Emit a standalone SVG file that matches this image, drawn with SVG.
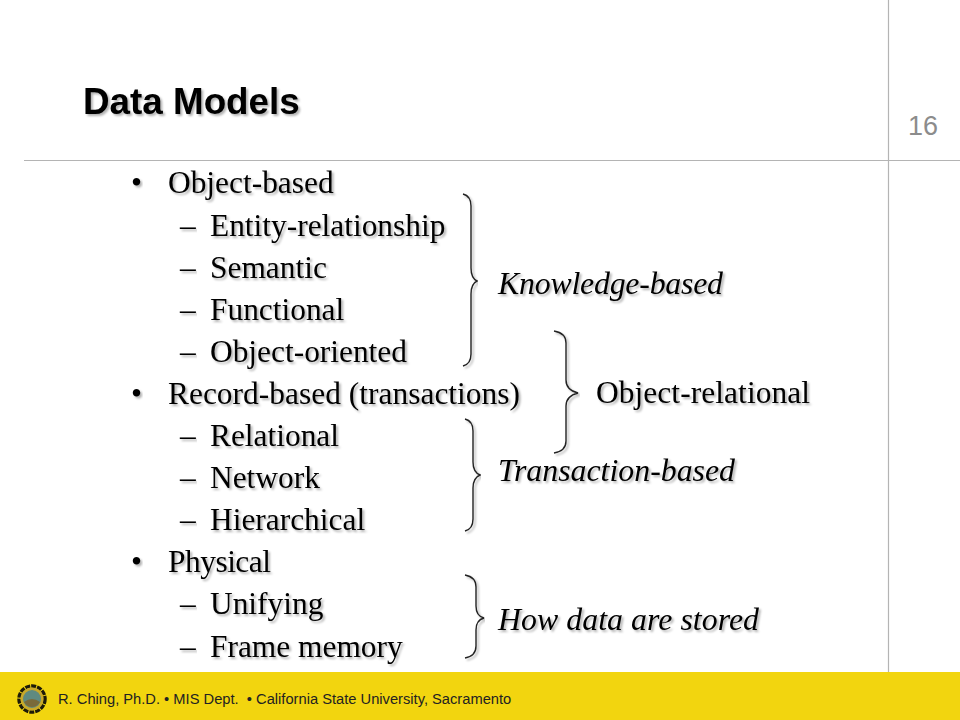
<svg xmlns="http://www.w3.org/2000/svg" width="960" height="720" viewBox="0 0 960 720">
<defs>
<filter id="sh" x="-5%" y="-20%" width="110%" height="150%"><feDropShadow dx="2" dy="2" stdDeviation="0.9" flood-color="#000" flood-opacity="0.3"/></filter>
</defs>
<style>
.t{font-family:"Liberation Serif",serif;font-size:31.4px;fill:#000;filter:url(#sh)}
.i{font-style:italic;font-size:31.8px}
.br{fill:none;stroke:#222;stroke-width:1.4;filter:url(#sh)}
.rule{stroke:#b4b4b4;stroke-width:1.2}
</style>
<rect width="960" height="720" fill="#fff"/>
<line class="rule" x1="24" y1="160.500" x2="960" y2="160.500"/>
<line class="rule" x1="888.500" y1="0" x2="888.500" y2="672"/>
<text x="83" y="113.500" font-family="Liberation Sans,sans-serif" font-size="36.800" font-weight="700" filter="url(#sh)">Data Models</text>
<text x="908" y="135" font-family="Liberation Sans,sans-serif" font-size="27" fill="#8c8c8c">16</text>
<g id="list">
<text class="t" x="131" y="193">•</text><text class="t" x="168" y="193">Object-based</text>
<text class="t" x="180" y="236">–</text><text class="t" x="210" y="236">Entity-relationship</text>
<text class="t" x="180" y="278">–</text><text class="t" x="210" y="278">Semantic</text>
<text class="t" x="180" y="320">–</text><text class="t" x="210" y="320">Functional</text>
<text class="t" x="180" y="362">–</text><text class="t" x="210" y="362">Object-oriented</text>
<text class="t" x="131" y="404">•</text><text class="t" x="168" y="404" textLength="352">Record-based (transactions)</text>
<text class="t" x="180" y="446">–</text><text class="t" x="210" y="446">Relational</text>
<text class="t" x="180" y="488">–</text><text class="t" x="210" y="488">Network</text>
<text class="t" x="180" y="530">–</text><text class="t" x="210" y="530">Hierarchical</text>
<text class="t" x="131" y="572">•</text><text class="t" x="168" y="572" textLength="103">Physical</text>
<text class="t" x="180" y="614">–</text><text class="t" x="210" y="614">Unifying</text>
<text class="t" x="180" y="657">–</text><text class="t" x="210" y="657">Frame memory</text>
</g>
<g id="connectors">
<path class="br" d="M463 194Q471 196 471 206V268Q471 278 477 281Q471 284 471 294V354Q471 364 463 366"/>
<path class="br" d="M554 331Q566 333 566 343V380Q566 390 578 393Q566 396 566 406V441Q566 451 554 453"/>
<path class="br" d="M465 419Q473 421 473 431V462Q473 472 480 475Q473 478 473 488V519Q473 529 465 531"/>
<path class="br" d="M465 575Q476 577 476 587V606Q476 616 484 618Q476 620 476 630V646Q476 656 465 658"/>
</g>
<g id="labels">
<text class="t i" x="498" y="294" textLength="225">Knowledge-based</text>
<text class="t" x="596" y="403" textLength="214">Object-relational</text>
<text class="t i" x="498" y="481" textLength="237">Transaction-based</text>
<text class="t i" x="498" y="630" textLength="261">How data are stored</text>
</g>
<g id="footer">
<rect x="0" y="672" width="960" height="48" fill="#f2d50f"/>
<circle cx="32" cy="699" r="13" fill="none" stroke="#1d1a08" stroke-width="3.500" stroke-dasharray="5 1"/>
<circle cx="32" cy="699" r="11.500" fill="#c9a92a"/>
<circle cx="32" cy="699" r="9" fill="#5f8a80"/>
<path d="M24 702Q32 696 40 702Q37 707 32 707Q27 707 24 702Z" fill="#7a6a3a"/>
<text x="58" y="704" xml:space="preserve" font-family="Liberation Sans,sans-serif" font-size="14.700" fill="#222">R. Ching, Ph.D. • MIS Dept.  • California State University, Sacramento</text>
</g>
</svg>
